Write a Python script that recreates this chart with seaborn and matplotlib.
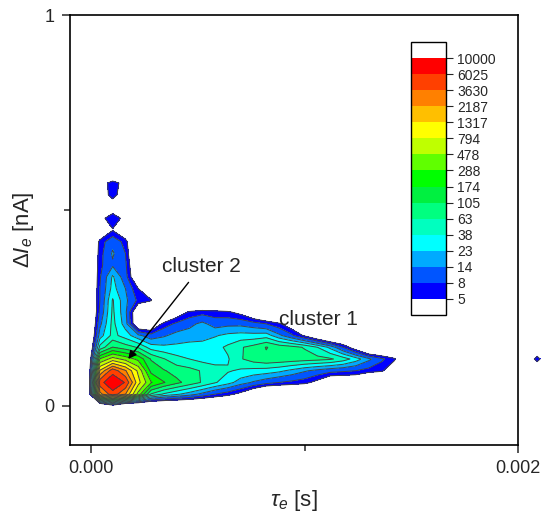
import numpy as np
import matplotlib
matplotlib.use("Agg")
import matplotlib.pyplot as plt
import matplotlib.cm as cm
from matplotlib.colors import ListedColormap, BoundaryNorm
import seaborn as sns

sns.set_style("ticks")
plt.rcParams["font.family"] = ["Liberation Sans", "DejaVu Sans"]
plt.rcParams["mathtext.fontset"] = "custom"
plt.rcParams["mathtext.rm"] = "Liberation Sans"
plt.rcParams["mathtext.it"] = "Liberation Sans:italic"

# ---- colour scale (counts) ----
levels = [5, 8, 14, 23, 38, 63, 105, 174, 288, 478, 794, 1317, 2187, 3630, 6025, 10000]
level_labels = ["5", "8", "14", "23", "38", "63", "105", "174", "288", "478",
                "794", "1317", "2187", "3630", "6025", "10000"]
band_colors = ["#0000FF", "#0055FF", "#00AAFF", "#00FFFF", "#00FFBF", "#00FF80",
               "#00F040", "#00FF00", "#60FF00", "#BFFF00", "#FFFF00", "#FFBF00",
               "#FF8000", "#FF4000", "#FF0000"]

# ---- grid of the 2D histogram ----
tau_e = [-0.00002, 0.00004, 0.00010, 0.00016, 0.00022, 0.00028, 0.00034, 0.00040,
         0.00046, 0.00052, 0.00058, 0.00064, 0.00070, 0.00076, 0.00082, 0.00088,
         0.00094, 0.00100, 0.00106, 0.00112, 0.00118, 0.00124, 0.00130, 0.00136,
         0.00142, 0.00148, 0.00154]
delta_I = [-0.03, 0.00, 0.03, 0.06, 0.09, 0.12, 0.15, 0.18, 0.21, 0.24, 0.27, 0.30,
           0.33, 0.36, 0.39, 0.42, 0.45, 0.48, 0.51, 0.54, 0.57, 0.60, 0.63]

N = len(tau_e)


def pad(r):
    return r + [0] * (N - len(r))


counts = [
    pad([0]),                                                          # -0.03
    pad([0, 0, 3]),                                                    # 0.00
    pad([0, 1800, 5000, 2200, 400, 60, 35, 25, 18, 12, 8, 6, 4, 2]),   # 0.03
    pad([0, 5000, 9000, 5800, 950, 300, 180, 120, 85, 60, 40, 28, 18, 13, 10, 8, 7, 6, 4,
         2, 2, 2, 1]),                                                 # 0.06
    pad([0, 1400, 5000, 2300, 700, 150, 110, 85, 75, 60, 48, 40, 35, 32, 30, 26, 20, 15,
         12, 10, 9, 8, 6.5, 5.5, 3]),                                  # 0.09
    pad([0, 300, 600, 400, 250, 100, 65, 45, 38, 32, 30, 36, 60, 80, 95, 90, 85, 80, 75,
         68, 50, 30, 16, 9, 5.5, 2]),                                  # 0.12
    pad([0, 45, 107, 80, 60, 30, 26, 26, 28, 30, 32, 42, 60, 75, 108, 85, 75, 60, 38, 20,
         8, 3]),                                                       # 0.15
    pad([0, 18, 45, 30, 16, 10, 13, 17, 18, 18, 22, 26, 28, 28, 30, 16, 9, 4.5, 2]),  # 0.18
    pad([0, 12, 45, 18, 2, 2, 6, 9, 12, 16, 11, 12, 12, 10, 8, 5.5, 3]),  # 0.21
    pad([0, 9, 42, 16, 2, 0, 0, 3, 5.5, 6.5, 6, 5.5, 4, 2]),           # 0.24
    pad([0, 8, 40, 16, 7, 5.3]),                                       # 0.27
    pad([0, 8, 28, 14, 5, 2]),                                         # 0.30
    pad([0, 7.5, 25, 10, 2]),                                          # 0.33
    pad([0, 7, 13, 9, 1.5]),                                           # 0.36
    pad([0, 6.5, 15, 8]),                                              # 0.39
    pad([0, 6, 12, 6.5]),                                              # 0.42
    pad([0, 2, 4.8, 2]),                                               # 0.45
    pad([0, 4, 7, 4]),                                                 # 0.48
    pad([0, 1, 3, 1]),                                                 # 0.51
    pad([0, 3, 6.5, 3]),                                               # 0.54
    pad([0, 3, 7, 3.5]),                                               # 0.57
    pad([0]),                                                          # 0.60
    pad([0]),                                                          # 0.63
]

# small isolated bin just right of the frame
blob_tau = [0.00203, 0.00209, 0.00215]
blob_dI = [0.09, 0.12, 0.15]
blob_counts = [[0, 0, 0], [0, 8, 0], [0, 0, 0]]

log_levels = np.log10(levels)
Z = np.log10(np.clip(np.array(counts, dtype=float), 1, None))
Zb = np.log10(np.clip(np.array(blob_counts, dtype=float), 1, None))

fig = plt.figure(figsize=(5.43, 5.12), dpi=100)
ax = fig.add_axes([70 / 543, 1 - 445 / 512, 448 / 543, 430 / 512])

line_col = "#454545"
ax.contourf(tau_e, delta_I, Z, levels=log_levels, colors=band_colors, zorder=1)
ax.contour(tau_e, delta_I, Z, levels=log_levels, colors=line_col, linewidths=0.7, zorder=1.2)
cb_f = ax.contourf(blob_tau, blob_dI, Zb, levels=log_levels, colors=band_colors, zorder=1)
cb_l = ax.contour(blob_tau, blob_dI, Zb, levels=log_levels, colors=line_col, linewidths=0.7)
cb_f.set_clip_on(False)
cb_l.set_clip_on(False)

ax.set_xlim(-0.0001, 0.002)
ax.set_ylim(-0.1, 1.0)
ax.set_xticks([0.0, 0.002])
ax.set_xticklabels(["0.000", "0.002"])
ax.set_xticks([0.001], minor=True)
ax.set_yticks([0, 1])
ax.set_yticklabels(["0", "1"])
ax.set_yticks([0.5], minor=True)
ax.tick_params(which="major", direction="out", length=6, width=1.1, labelsize=13, pad=5)
ax.tick_params(which="minor", direction="out", length=4, width=1.1)
for s in ax.spines.values():
    s.set_linewidth(1.2)
    s.set_color("black")
ax.set_xlabel(r"$\tau_e$ [s]", fontsize=16, labelpad=8)
ax.set_ylabel(r"$\mathit{\Delta I_e}$ [nA]", fontsize=16, labelpad=6)

ax.annotate("cluster 2", xy=(0.000173, 0.120), xytext=(0.000515, 0.343),
            ha="center", va="baseline", fontsize=15,
            arrowprops=dict(arrowstyle="-|>", color="black", lw=1.0,
                            mutation_scale=12, shrinkA=3, shrinkB=0))
ax.text(0.001063, 0.207, "cluster 1", ha="center", va="baseline", fontsize=15)

# colour bar
cmap = ListedColormap(band_colors)
cmap.set_under("white")
cmap.set_over("white")
norm = BoundaryNorm(levels, cmap.N)
sm = cm.ScalarMappable(norm=norm, cmap=cmap)
cax = fig.add_axes([411 / 543, 1 - 315 / 512, 35 / 543, 273 / 512])
cb = fig.colorbar(sm, cax=cax, extend="both", extendrect=True, extendfrac=1 / 15,
                  spacing="uniform")
cb.set_ticks(levels, labels=level_labels)
cb.minorticks_off()
cb.outline.set_linewidth(1.0)
cb.outline.set_edgecolor("black")
cax.tick_params(direction="out", length=5, width=0.8, labelsize=10, pad=3)

fig.savefig("out.png", dpi=100)
